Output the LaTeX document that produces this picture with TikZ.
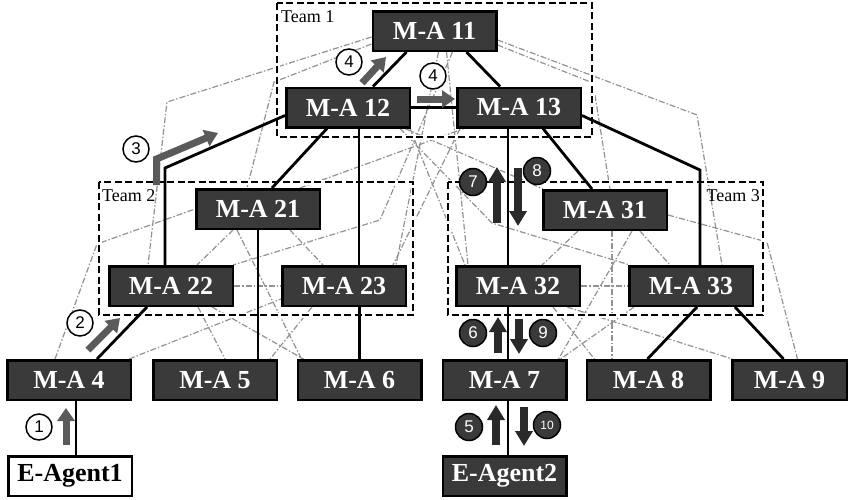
\documentclass[tikz,border=0pt]{standalone}
\usepackage{fontspec}
\setmainfont{Liberation Serif}
\newfontfamily\numfont{Liberation Sans}
\usetikzlibrary{arrows.meta}
\definecolor{boxgray}{HTML}{3A3A3A}
\definecolor{arrgray}{HTML}{5A5A5A}
\definecolor{webgray}{HTML}{929292}
\definecolor{arrdark}{HTML}{2A2A2A}
\pgfdeclarelayer{web}
\pgfdeclarelayer{teams}
\pgfdeclarelayer{links}
\pgfsetlayers{web,teams,links,main}
\begin{document}
\begin{tikzpicture}[x=1pt,y=-1pt,
  ma/.style={draw=black, line width=2.5pt, fill=boxgray, text=white,
    font=\bfseries\fontsize{26}{26}\selectfont,
    minimum width=123.5pt, minimum height=39.5pt, inner sep=0pt},
  link/.style={draw=black, line width=2.8pt},
  web/.style={draw=webgray, line width=1.2pt, dash pattern=on 6pt off 2pt on 1.5pt off 2pt},
  teambox/.style={draw=black, line width=2.3pt, dash pattern=on 7pt off 3.5pt},
  teamhalo/.style={draw=white, line width=5pt},
  teamlabel/.style={font=\fontsize{18}{18}\selectfont, inner sep=0pt},
  garrow/.style={draw=arrgray, line width=7pt, line join=miter, -{Triangle[length=13pt,width=17pt]}},
  darrow/.style={draw=arrdark, line width=7.5pt, -{Triangle[length=15pt,width=17pt]}},
  wcirc/.style={circle, draw=black, line width=1.5pt, fill=white, minimum size=26pt, inner sep=0pt,
    font=\numfont\fontsize{17}{17}\selectfont},
  dcirc/.style={circle, draw=black, line width=1.5pt, fill=boxgray, text=white, minimum size=27pt, inner sep=0pt,
    font=\numfont\fontsize{17}{17}\selectfont}
]
\useasboundingbox (0,0) rectangle (849,499);

% ---- nodes
\node[ma] (m11) at (434.5,31) {M-A 11};
\node[ma] (m12) at (348,107.5) {M-A 12};
\node[ma] (m13) at (519,107.5) {M-A 13};
\node[ma] (m21) at (258,209) {M-A 21};
\node[ma] (m22) at (171,286) {M-A 22};
\node[ma] (m23) at (344,286) {M-A 23};
\node[ma] (m31) at (605,210) {M-A 31};
\node[ma] (m32) at (518,286) {M-A 32};
\node[ma] (m33) at (691,286) {M-A 33};
\node[ma] (m4) at (69,380) {M-A 4};
\node[ma] (m5) at (215,380) {M-A 5};
\node[ma] (m6) at (359.5,380) {M-A 6};
\node[ma] (m7) at (504.5,380) {M-A 7};
\node[ma] (m8) at (648.5,380) {M-A 8};
\node[ma, minimum width=114.5pt] (m9) at (789.5,380) {M-A 9};
\node[ma, fill=white, text=black] (e1) at (70,476) {E-Agent1};
\node[ma] (e2) at (504.5,476) {E-Agent2};

% ---- bend points
\coordinate (b12) at (165,168);
\coordinate (b13) at (700,170);
\coordinate (w1) at (167,102);
\coordinate (w2) at (274,82);
\coordinate (w3) at (697,115);
\coordinate (w4) at (593,83);
\coordinate (w5) at (767,242);
\coordinate (w6) at (97,244);
\coordinate (w7) at (492,223);
\coordinate (w8) at (380,220);

% ---- gray web
\begin{pgfonlayer}{web}
\draw[web] ([yshift=-6pt]m11.west) -- (w1) -- ([xshift=-23pt]m22.north);
\draw[web] ([yshift=-13pt]m11.west) -- (w2) -- ([xshift=-11pt]m21.north);
\draw[web] ([yshift=-9pt]m11.east) -- (w3) -- ([xshift=31pt]m33.north);
\draw[web] ([yshift=-14pt]m11.east) -- (w4) -- ([xshift=5pt]m31.north);
\draw[web] ([yshift=-5pt]m31.east) -- (w5) -- ([xshift=8pt]m9.north);
\draw[web] ([xshift=-14pt]m4.north) -- (w6) -- (m21.west);
\draw[web] ([xshift=60pt]m4.north) -- ([yshift=-13pt]m23.west);
\draw[web] ([xshift=27pt]m22.south) -- ([xshift=10pt]m5.north);
\draw[web] ([xshift=41pt]m22.south) -- ([xshift=-56pt]m6.north);
\draw[web] ([xshift=-32pt]m23.south) -- ([xshift=55pt]m5.north);
\draw[web] ([xshift=-21pt]m21.south) -- ([xshift=-58pt]m6.north);
\draw[web] ([xshift=-25pt]m21.south) -- ([xshift=26pt]m22.north);
\draw[web] ([xshift=32pt]m21.south) -- ([xshift=-21pt]m23.north);
\draw[web] (m22.east) -- (m23.west);
\draw[web] ([xshift=-27pt]m31.south) -- ([xshift=24pt]m32.north);
\draw[web] ([xshift=35pt]m31.south) -- ([xshift=-21pt]m33.north);
\draw[web] (m32.east) -- (m33.west);
\draw[web] ([xshift=7pt]m31.south) -- ([xshift=7pt]m31.south |- m8.north);
\draw[web] ([xshift=27pt]m31.south) -- ([xshift=54pt]m7.north);
\draw[web] ([xshift=-57pt]m33.south) -- ([xshift=56pt]m7.north);
\draw[web] ([xshift=35pt]m32.south) -- ([xshift=-54pt]m8.north);
\draw[web] ([xshift=49pt]m32.south) -- ([xshift=-57pt]m9.north);
\draw[web] ([xshift=52pt]m12.south) -- (w7) -- ([xshift=-61pt]m33.north);
\draw[web] ([xshift=62pt]m12.south) -- ([xshift=-53pt]m32.north);
\draw[web] ([xshift=-59pt]m13.south) -- ([xshift=49pt]m23.north);
\draw[web] ([xshift=18pt]m11.south) -- (w8) -- ([xshift=62pt]m22.north);
\draw[web] ([xshift=4pt]m11.south) -- ([xshift=52pt]m23.north);
\draw[web] ([xshift=12pt]m11.south) -- ([xshift=-50pt]m32.north);
\draw[web] ([xshift=42pt]m21.north) -- ([xshift=-55pt]m13.south);
\draw[web] ([xshift=57pt]m12.south) -- ([xshift=-62pt]m31.north);
\end{pgfonlayer}

% ---- team boxes
\begin{pgfonlayer}{teams}
\draw[teamhalo] (277,3) rectangle (592,137);
\draw[teambox] (277,3) rectangle (592,137);
\draw[teamhalo] (99,182) rectangle (413,315);
\draw[teambox] (99,182) rectangle (413,315);
\draw[teamhalo] (448,182) rectangle (763,315);
\draw[teambox] (448,182) rectangle (763,315);
\node[teamlabel, anchor=north west] (t1) at (281,10) {Team 1};
\node[teamlabel, anchor=north west] (t2) at (102,189) {Team 2};
\node[teamlabel, anchor=north east] (t3) at (760,189) {Team 3};
\end{pgfonlayer}

% ---- black links
\begin{pgfonlayer}{links}
\draw[link] ([xshift=-28pt]m11.south) -- ([xshift=25pt]m12.north);
\draw[link] ([xshift=32pt]m11.south) -- ([xshift=-19pt]m13.north);
\draw[link] (m12.east) -- (m13.west);
\draw[link] ([xshift=-21pt]m12.south) -- ([xshift=14pt]m21.north);
\draw[link] ([xshift=11pt]m12.south) -- ([xshift=11pt]m12.south |- m23.north);
\draw[link] ([yshift=-8pt]m12.west) -- (b12) -- (b12 |- m22.north);
\draw[link] (m21.south) -- (m21.south |- m5.north);
\draw[link] (m6.north |- m23.south) -- (m6.north);
\draw[link] ([xshift=-24pt]m22.south) -- ([xshift=28pt]m4.north);
\draw[link] ([xshift=7pt]m4.south) -- ([xshift=7pt]m4.south |- e1.north);
\draw[link] ([xshift=-11pt]m13.south) -- ([xshift=-11pt]m13.south |- m32.north);
\draw[link] ([xshift=-10pt]m32.south) -- ([xshift=-10pt]m32.south |- m7.north);
\draw[link] ([xshift=3.5pt]m7.south) -- ([xshift=3.5pt]m7.south |- e2.north);
\draw[link] ([xshift=24pt]m13.south) -- ([xshift=-13pt]m31.north);
\draw[link] ([yshift=-8pt]m13.east) -- (b13) -- (b13 |- m33.north);
\draw[link] ([xshift=6pt]m33.south) -- ([xshift=-1pt]m8.north);
\draw[link] ([xshift=44pt]m33.south) -- ([xshift=-6pt]m9.north);
\end{pgfonlayer}

% ---- gray step arrows
\draw[garrow] (66,445) -- (66,408);
\draw[garrow] (88,350) -- (120,318);
\draw[garrow] (156.5,185) -- (156.5,159) -- (218,133);
\draw[garrow] (362,83) -- (386,57);
\draw[garrow] (417,99) -- (455,99);
\node[wcirc] (c1) at (39,427) {1};
\node[wcirc] (c2) at (80,323) {2};
\node[wcirc] (c3) at (136,149) {3};
\node[wcirc] (c4a) at (349,62) {4};
\node[wcirc] (c4b) at (433,76) {4};

% ---- dark step arrows
\draw[darrow] (497,223) -- (497,167);
\draw[darrow] (518,168) -- (518,226);
\draw[darrow] (498,353) -- (498,317);
\draw[darrow] (519,319) -- (519,354);
\draw[darrow] (496,445) -- (496,405);
\draw[darrow] (524,407) -- (524,446);
\node[dcirc] (c7) at (473,182) {7};
\node[dcirc] (c8) at (537,171) {8};
\node[dcirc] (c6) at (473,333) {6};
\node[dcirc] (c9) at (543,333) {9};
\node[dcirc] (c5) at (469,427) {5};
\node[dcirc, font=\numfont\fontsize{12}{12}\selectfont] (c10) at (547,425) {10};
\end{tikzpicture}
\end{document}
